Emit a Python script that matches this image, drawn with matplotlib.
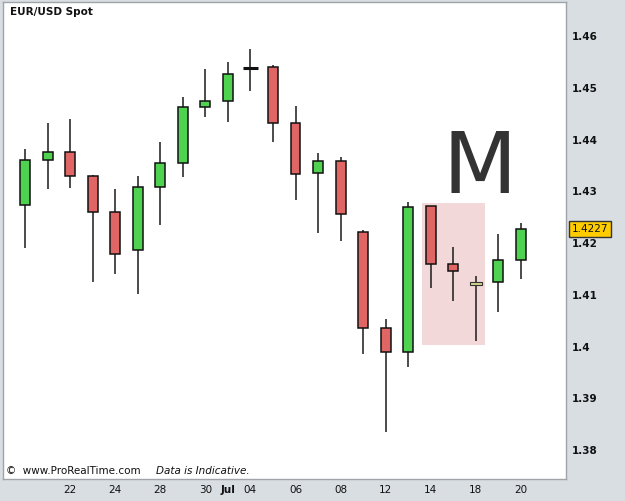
import matplotlib.pyplot as plt
from matplotlib.patches import Rectangle

# daily EUR/USD candles
opens = [1.4274, 1.4360, 1.4375, 1.4329, 1.4259, 1.4186, 1.4308, 1.4355, 1.4462, 1.4474, 1.4539, 1.4540,
         1.4432, 1.4335, 1.4358, 1.4221, 1.4035, 1.3989, 1.4271, 1.4160, 1.4123, 1.4124, 1.4168]
highs = [1.4381, 1.4432, 1.4440, 1.4331, 1.4304, 1.4329, 1.4395, 1.4482, 1.4536, 1.4549, 1.4575, 1.4544,
         1.4464, 1.4373, 1.4367, 1.4226, 1.4053, 1.4280, 1.4272, 1.4193, 1.4136, 1.4217, 1.4239]
lows = [1.4190, 1.4304, 1.4307, 1.4125, 1.4140, 1.4101, 1.4234, 1.4327, 1.4444, 1.4433, 1.4494, 1.4395,
        1.4283, 1.4219, 1.4204, 1.3985, 1.3835, 1.3961, 1.4114, 1.4088, 1.4011, 1.4067, 1.4130]
closes = [1.4360, 1.4375, 1.4329, 1.4259, 1.4178, 1.4308, 1.4355, 1.4462, 1.4474, 1.4526, 1.4539, 1.4432,
          1.4333, 1.4358, 1.4257, 1.4035, 1.3989, 1.4269, 1.4159, 1.4146, 1.4121, 1.4168, 1.4227]

tick_pos = [2, 4, 6, 8, 9, 10, 12, 14, 16, 18, 20, 22]
tick_labels = ["22", "24", "28", "30", "Jul", "04", "06", "08", "12", "14", "18", "20"]
y_ticks = [1.38, 1.39, 1.40, 1.41, 1.42, 1.43, 1.44, 1.45, 1.46]
y_labels = ["1.38", "1.39", "1.4", "1.41", "1.42", "1.43", "1.44", "1.45", "1.46"]
last_price = 1.4227

# highlighted zone (x in candle index, y in price)
zone_x = (17.63, 20.4)
zone_y = (1.4003, 1.4277)

green = "#4fd24f"
red = "#e06565"
bg = "#d9dee3"

fig = plt.figure(figsize=(6.25, 5.01), dpi=100, facecolor=bg)
ax = fig.add_axes([0.0048, 0.0439, 0.9008, 0.9521])
ax.set_facecolor("white")
for s in ax.spines.values():
    s.set_color("#a0a4a8")
    s.set_linewidth(1)

ax.add_patch(Rectangle((zone_x[0], zone_y[0]), zone_x[1] - zone_x[0], zone_y[1] - zone_y[0],
                       facecolor="#f2d8d8", edgecolor="none", zorder=1))

w = 0.44
for i, (o, h, l, c) in enumerate(zip(opens, highs, lows, closes)):
    ax.vlines(i, l, h, color="#1a1a1a", linewidth=1.1, zorder=2)
    if abs(c - o) < 0.0003:
        if i == 20:
            ax.add_patch(Rectangle((i - w / 2 - 0.05, min(o, c) - 0.0002), w + 0.1, abs(c - o) + 0.0004,
                                   facecolor="#d6d68c", edgecolor="#333333", linewidth=0.8, zorder=3))
        else:
            ax.hlines(o, i - w / 2 - 0.1, i + w / 2 + 0.1, color="#111111", linewidth=2.2, zorder=3)
        continue
    col = green if c > o else red
    ax.add_patch(Rectangle((i - w / 2, min(o, c)), w, abs(c - o),
                           facecolor=col, edgecolor="#111111", linewidth=1.1, zorder=3))

ax.text(20.15, 1.4343, "M", fontsize=62, color="#333333", ha="center", va="center",
        family="DejaVu Sans", zorder=4)

ax.set_xlim(-0.976, 24.0)
ax.set_ylim(1.3744, 1.46657)

ax.yaxis.tick_right()
ax.set_yticks(y_ticks)
ax.set_yticklabels(y_labels, fontsize=7.5, fontweight="bold", color="#111111")
ax.set_xticks(tick_pos)
ax.set_xticklabels(tick_labels, fontsize=7.5, color="#111111")
ax.get_xticklabels()[4].set_fontweight("bold")
ax.tick_params(axis="y", length=0, pad=4)
ax.tick_params(axis="x", length=0, pad=4)

ax.text(0.013, 0.99, "EUR/USD Spot", transform=ax.transAxes, fontsize=7.5, fontweight="bold",
        color="#111111", ha="left", va="top")
ax.text(0.005, 0.007, "©  www.ProRealTime.com", transform=ax.transAxes, fontsize=7.5,
        color="#111111", ha="left", va="bottom")
ax.text(0.272, 0.007, "Data is Indicative.", transform=ax.transAxes, fontsize=7.5, style="italic",
        color="#111111", ha="left", va="bottom")

ax.annotate(f"{last_price:.4f}", xy=(1.0, last_price), xycoords=("axes fraction", "data"),
            xytext=(4, 0), textcoords="offset points", fontsize=7.5, color="#111111",
            ha="left", va="center",
            bbox=dict(boxstyle="square,pad=0.25", facecolor="#ffcc00", edgecolor="#333333", linewidth=1),
            annotation_clip=False)

fig.savefig("out.png", dpi=100, facecolor=bg)
